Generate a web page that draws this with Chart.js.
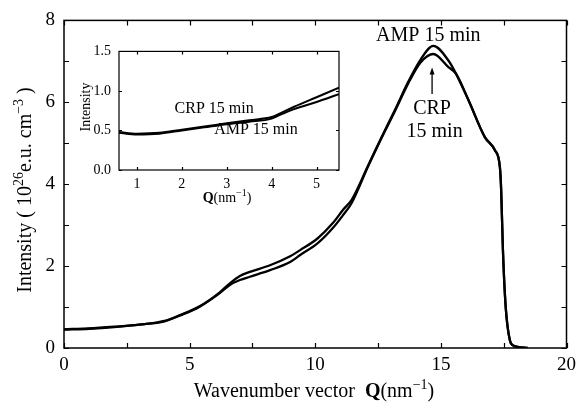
<!DOCTYPE html>
<html>
<head>
<meta charset="utf-8">
<script src="https://cdn.jsdelivr.net/npm/chart.js@4.4.1/dist/chart.umd.min.js"></script>
<style>
html, body { margin: 0; padding: 0; background: #fff; }
#wrap { position: relative; width: 582px; height: 405px; }
#main { position: absolute; left: 0; top: 0; }
#inset { position: absolute; left: 70px; top: 35px; }
</style>
</head>
<body>
<div id="wrap">
  <canvas id="main" width="582" height="405"></canvas>
  <canvas id="inset" width="280" height="175"></canvas>
</div>
<script>
// main plot: Q (nm^-1) vs intensity (10^26 e.u. cm^-3)
const qMain   = [0, 1, 2, 3, 4, 4.6, 5.4, 6.2, 6.6, 7.0, 7.4, 8.2, 9.0, 9.4, 10.1, 10.7, 11.1, 11.45, 12.1, 12.6, 13.2, 13.7, 14.2, 14.7, 15.3, 15.6, 16.1, 16.75, 17.15, 17.35, 17.4, 17.47, 17.58, 17.74, 17.86, 18.06, 18.45];
const ampMain = [0.46, 0.48, 0.52, 0.57, 0.66, 0.8, 1.02, 1.36, 1.58, 1.76, 1.86, 2.02, 2.24, 2.39, 2.68, 3.05, 3.37, 3.62, 4.45, 5.1, 5.85, 6.5, 7.05, 7.38, 7.02, 6.7, 6.05, 5.15, 4.83, 4.41, 3.85, 2.39, 1.0, 0.2, 0.07, 0.03, 0];
const crpMain = [0.45, 0.47, 0.51, 0.57, 0.65, 0.79, 1.01, 1.34, 1.54, 1.66, 1.74, 1.9, 2.1, 2.27, 2.56, 2.93, 3.24, 3.54, 4.43, 5.08, 5.82, 6.46, 6.98, 7.18, 6.86, 6.7, 6.05, 5.15, 4.83, 4.41, 3.85, 2.39, 1.0, 0.2, 0.07, 0.03, 0];
const xTicksMain = [0, 5, 10, 15, 20];
const yTicksMain = [0, 2, 4, 6, 8];

// inset: low-Q region
const qInset   = [0.6, 1.0, 1.5, 2.0, 2.5, 3.0, 3.5, 4.0, 4.2, 4.5, 5.0, 5.5];
const ampInset = [0.48, 0.46, 0.47, 0.51, 0.55, 0.59, 0.63, 0.67, 0.72, 0.8, 0.92, 1.04];
const crpInset = [0.47, 0.45, 0.46, 0.5, 0.54, 0.58, 0.61, 0.65, 0.7, 0.77, 0.86, 0.96];
const xTicksInset = [1, 2, 3, 4, 5];
const yTicksInset = [0, 0.5, 1.0, 1.5];

const SERIF = '"Liberation Serif", "DejaVu Serif", serif';
const pts = (xs, ys) => xs.map((x, i) => ({ x: x, y: ys[i] }));

// draws text made of pieces: [text, size, bold, raise]
function richText(ctx, parts, x, y, rot) {
    ctx.save();
    ctx.translate(x, y);
    if (rot) ctx.rotate(rot);
    ctx.textAlign = 'left';
    ctx.textBaseline = 'alphabetic';
    ctx.fillStyle = '#000';
    const font = p => (p[2] ? 'bold ' : '') + p[1] + 'px ' + SERIF;
    let w = 0;
    parts.forEach(p => { ctx.font = font(p); w += ctx.measureText(p[0]).width; });
    let cx = -w / 2;
    parts.forEach(p => {
        ctx.font = font(p);
        ctx.fillText(p[0], cx, -(p[3] || 0));
        cx += ctx.measureText(p[0]).width;
    });
    ctx.restore();
}

function label(chart, text, qx, qy, size) {
    const { ctx, scales } = chart;
    ctx.save();
    ctx.font = size + 'px ' + SERIF;
    ctx.fillStyle = '#000';
    ctx.textAlign = 'center';
    ctx.textBaseline = 'middle';
    ctx.fillText(text, scales.x.getPixelForValue(qx), scales.y.getPixelForValue(qy));
    ctx.restore();
}

// box with inward ticks on all four sides
const framePlugin = {
    id: 'frame',
    beforeDatasetsDraw(chart, args, o) {
        const { ctx, chartArea: a, scales: { x, y } } = chart;
        ctx.save();
        ctx.fillStyle = '#fff';
        ctx.fillRect(a.left, a.top, a.right - a.left, a.bottom - a.top);
        ctx.strokeStyle = '#000';
        ctx.lineWidth = o.lw;
        ctx.strokeRect(a.left, a.top, a.right - a.left, a.bottom - a.top);
        ctx.lineWidth = 1.2;
        ctx.beginPath();
        for (let v = Math.ceil(x.min / o.xStep) * o.xStep; v <= x.max + 1e-9; v += o.xStep) {
            const px = Math.round(x.getPixelForValue(v)) + 0.5;
            ctx.moveTo(px, a.bottom); ctx.lineTo(px, a.bottom - o.len);
            ctx.moveTo(px, a.top); ctx.lineTo(px, a.top + o.len);
        }
        for (let v = Math.ceil(y.min / o.yStep) * o.yStep; v <= y.max + 1e-9; v += o.yStep) {
            const py = Math.round(y.getPixelForValue(v)) + 0.5;
            ctx.moveTo(a.left, py); ctx.lineTo(a.left + o.len, py);
            ctx.moveTo(a.right, py); ctx.lineTo(a.right - o.len, py);
        }
        ctx.stroke();
        ctx.restore();
    }
};

const lineSet = (data, w) => ({
    data: data,
    borderColor: '#000',
    borderWidth: w,
    pointRadius: 0,
    fill: false,
    cubicInterpolationMode: 'monotone'
});

const mainChart = new Chart(document.getElementById('main'), {
    type: 'scatter',
    data: {
        datasets: [
            Object.assign(lineSet(pts(qMain, ampMain), 2.3), { label: 'AMP 15 min', showLine: true }),
            Object.assign(lineSet(pts(qMain, crpMain), 2.3), { label: 'CRP 15 min', showLine: true })
        ]
    },
    options: {
        responsive: false,
        animation: false,
        layout: { padding: { top: 20, right: 13, left: 0, bottom: 0 } },
        plugins: {
            legend: { display: false },
            tooltip: { enabled: false },
            frame: { lw: 1.5, len: 5, xStep: 2.5, yStep: 1 }
        },
        scales: {
            x: {
                type: 'linear', min: 0, max: 20,
                afterBuildTicks: s => { s.ticks = xTicksMain.map(v => ({ value: v })); },
                afterFit: s => { s.height = 57; },
                grid: { display: false, drawTicks: false },
                border: { display: false },
                ticks: { color: '#000', font: { family: SERIF, size: 19 }, padding: 6, maxRotation: 0 }
            },
            y: {
                type: 'linear', min: 0, max: 8,
                afterBuildTicks: s => { s.ticks = yTicksMain.map(v => ({ value: v })); },
                afterFit: s => { s.width = 64; },
                grid: { display: false, drawTicks: false },
                border: { display: false },
                ticks: { color: '#000', font: { family: SERIF, size: 19 }, padding: 9 }
            }
        }
    },
    plugins: [framePlugin, {
        id: 'notes',
        afterDraw(chart) {
            const { ctx, scales: { x, y } } = chart;
            label(chart, 'AMP 15 min', 14.5, 7.63, 20);
            label(chart, 'CRP', 14.65, 5.85, 20);
            label(chart, '15 min', 14.75, 5.27, 20);
            // arrow pointing up at the CRP peak
            const ax = x.getPixelForValue(14.65);
            const y0 = y.getPixelForValue(6.2), y1 = y.getPixelForValue(6.85);
            ctx.save();
            ctx.strokeStyle = '#000';
            ctx.fillStyle = '#000';
            ctx.lineWidth = 1.3;
            ctx.beginPath(); ctx.moveTo(ax, y0); ctx.lineTo(ax, y1 + 5); ctx.stroke();
            ctx.beginPath(); ctx.moveTo(ax, y1); ctx.lineTo(ax - 2.5, y1 + 7); ctx.lineTo(ax + 2.5, y1 + 7); ctx.closePath(); ctx.fill();
            ctx.restore();
            richText(ctx, [['Wavenumber vector  ', 20], ['Q', 20, true], ['(nm', 20], ['\u22121', 14, false, 8], [')', 20]], 314, 397);
            richText(ctx, [['Intensity ( 10', 20], ['26', 14, false, 8], ['e.u. cm', 20], ['\u22123', 14, false, 8], [' )', 20]], 31, 190, -Math.PI / 2);
        }
    }]
});

const insetChart = new Chart(document.getElementById('inset'), {
    type: 'scatter',
    data: {
        datasets: [
            Object.assign(lineSet(pts(qInset, ampInset), 2), { label: 'AMP 15 min', showLine: true }),
            Object.assign(lineSet(pts(qInset, crpInset), 2), { label: 'CRP 15 min', showLine: true })
        ]
    },
    options: {
        responsive: false,
        animation: false,
        layout: { padding: { top: 8, right: 11, left: 0, bottom: 0 } },
        plugins: {
            legend: { display: false },
            tooltip: { enabled: false },
            frame: { lw: 1.2, len: 3, xStep: 1, yStep: 0.5 }
        },
        scales: {
            x: {
                type: 'linear', min: 0.6, max: 5.5,
                afterBuildTicks: s => { s.ticks = xTicksInset.map(v => ({ value: v })); },
                afterFit: s => { s.height = 40; },
                grid: { display: false, drawTicks: false },
                border: { display: false },
                ticks: { color: '#000', font: { family: SERIF, size: 14 }, padding: 6, maxRotation: 0 }
            },
            y: {
                type: 'linear', min: 0, max: 1.5,
                afterBuildTicks: s => { s.ticks = yTicksInset.map(v => ({ value: v })); },
                afterFit: s => { s.width = 49; },
                grid: { display: false, drawTicks: false },
                border: { display: false },
                ticks: { color: '#000', font: { family: SERIF, size: 14 }, padding: 8, callback: v => v.toFixed(1) }
            }
        }
    },
    plugins: [framePlugin, {
        id: 'insetNotes',
        afterDraw(chart) {
            const ctx = chart.ctx;
            label(chart, 'CRP 15 min', 2.72, 0.77, 16);
            label(chart, 'AMP 15 min', 3.65, 0.51, 16);
            richText(ctx, [['Q', 14, true], ['(nm', 14], ['\u22121', 10, false, 6], [')', 14]], 157, 167);
            richText(ctx, [['Intensity', 14]], 20, 72, -Math.PI / 2);
        }
    }]
});
</script>
</body>
</html>
